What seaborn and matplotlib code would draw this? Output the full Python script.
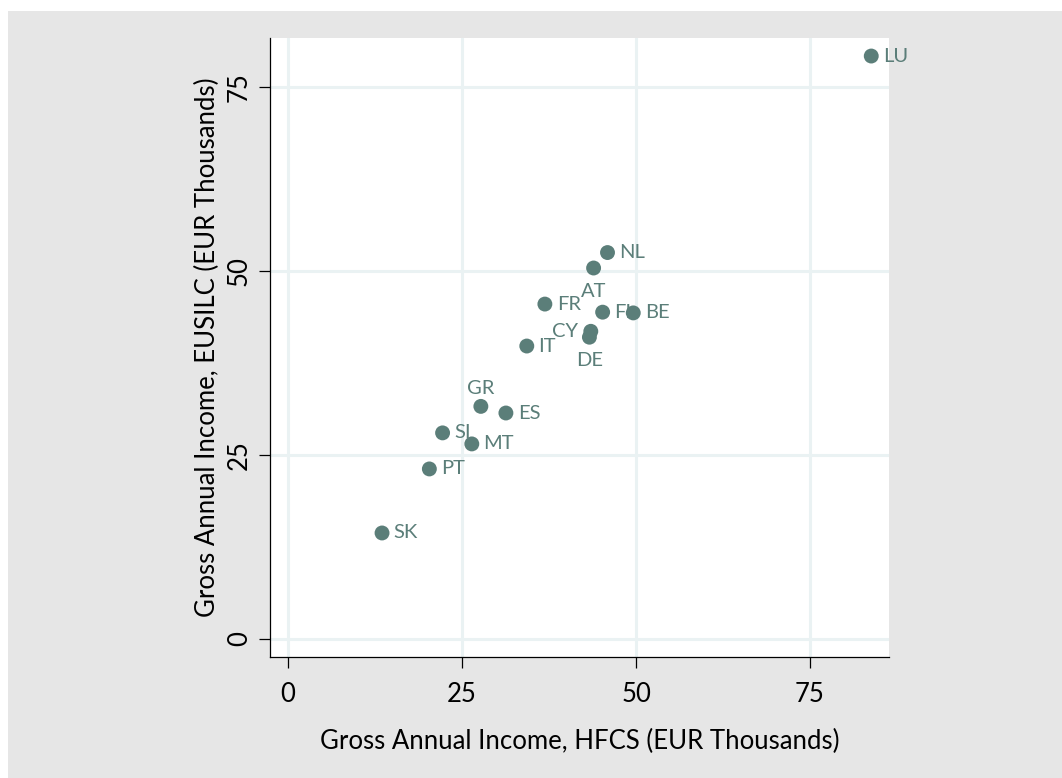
import pandas as pd
import seaborn as sns
import matplotlib.pyplot as plt
from matplotlib.patches import Rectangle

countries = ["LU", "NL", "AT", "FR", "FI", "BE", "CY", "DE", "IT",
             "GR", "ES", "SI", "MT", "PT", "SK"]
hfcs = [83.8, 45.9, 43.9, 36.9, 45.2, 49.6, 43.5, 43.3, 34.3,
        27.7, 31.3, 22.2, 26.4, 20.3, 13.5]
eusilc = [79.2, 52.5, 50.4, 45.5, 44.4, 44.3, 41.8, 41.0, 39.8,
          31.6, 30.7, 28.0, 26.5, 23.1, 14.4]
# label position, clock style as in the original graph
label_pos = {"AT": 6, "DE": 6, "GR": 12, "CY": 9}
ticks = [0, 25, 50, 75]

marker_col = "#5b7e79"

sns.set_style("white")
plt.rcParams["font.family"] = ["Lato", "DejaVu Sans"]
plt.rcParams["text.color"] = "black"
plt.rcParams["axes.labelcolor"] = "black"
plt.rcParams["xtick.color"] = "black"
plt.rcParams["ytick.color"] = "black"

df = pd.DataFrame({"Country": countries, "HFCS": hfcs, "EUSILC": eusilc})

fig = plt.figure(figsize=(10.62, 7.78), dpi=100)
fig.patch.set_facecolor("white")
fig.patches.append(Rectangle((8 / 1062, 0), 1, 1 - 11 / 778, transform=fig.transFigure,
                             facecolor="#e6e6e6", edgecolor="none", zorder=-5))
ax = fig.add_axes([270 / 1062, 1 - 657 / 778, 619 / 1062, 619 / 778])
ax.set_facecolor("white")

sns.scatterplot(data=df, x="HFCS", y="EUSILC", ax=ax, color=marker_col,
                s=115, edgecolor="none", zorder=3)

for name, x, y in zip(countries, hfcs, eusilc):
    pos = label_pos.get(name, 3)
    if pos == 3:
        off, ha, va = (8.5, 0), "left", "center"
    elif pos == 6:
        off, ha, va = (0, -10.5), "center", "top"
    elif pos == 12:
        off, ha, va = (0, 7), "center", "bottom"
    else:
        off, ha, va = (-9.5, 0), "right", "center"
    ax.annotate(name, (x, y), xytext=off, textcoords="offset points",
                ha=ha, va=va, fontsize=14.5, color=marker_col, zorder=4)

ax.set_xlim(-2.6, 86.35)
ax.set_ylim(-2.45, 81.65)
ax.set_xticks(ticks)
ax.set_yticks(ticks)
ax.set_xticklabels([str(t) for t in ticks], fontsize=18.5)
ax.set_yticklabels([str(t) for t in ticks], fontsize=18.5, rotation=90, va="center")
ax.grid(True, color="#eaf2f3", linewidth=2.2)
ax.set_axisbelow(True)
ax.tick_params(axis="both", direction="out", length=8, width=0.9, color="black",
               left=True, bottom=True)
ax.tick_params(axis="x", pad=10)
ax.tick_params(axis="y", pad=5)
for side in ["top", "right"]:
    ax.spines[side].set_visible(False)
for side in ["left", "bottom"]:
    ax.spines[side].set_color("black")
    ax.spines[side].set_linewidth(0.9)

ax.set_xlabel("Gross Annual Income, HFCS (EUR Thousands)", fontsize=18.5, labelpad=15.5)
ax.set_ylabel("Gross Annual Income, EUSILC (EUR Thousands)", fontsize=18.5, labelpad=5)

plt.savefig("out.png", dpi=100)
